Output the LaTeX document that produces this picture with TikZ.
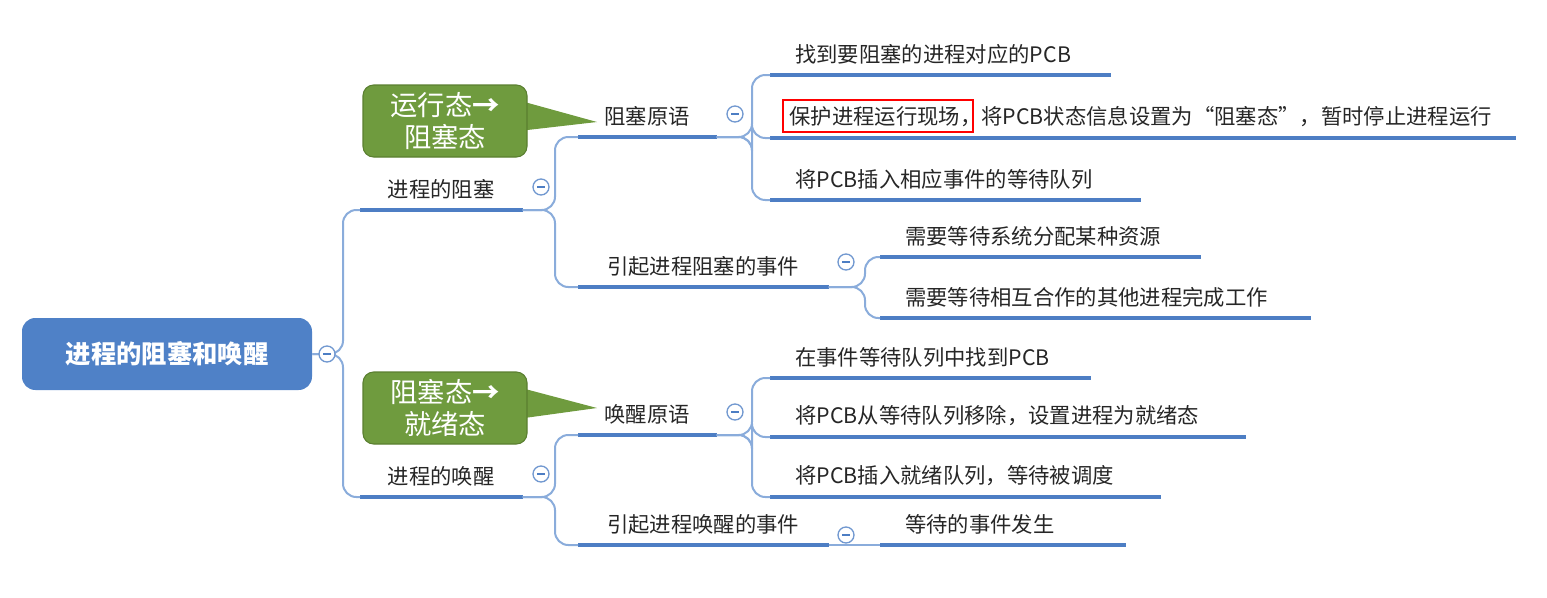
\documentclass[tikz,border=0pt]{standalone}
\usepackage{fontspec}
\setmainfont{Noto Sans CJK SC}
\usetikzlibrary{positioning}
\definecolor{ulc}{HTML}{4D7EC4}
\definecolor{cnc}{HTML}{8AACDB}
\definecolor{rootc}{HTML}{4F81C7}
\definecolor{grn}{HTML}{6F9B3E}
\definecolor{grnd}{HTML}{5A7F30}
\begin{document}
\begin{tikzpicture}[x=0.75pt,y=-0.75pt,
  lbl/.style={anchor=south west,inner sep=0pt,minimum height=31pt,font=\fontsize{16}{19}\selectfont,text=black!85},
  leaf/.style={lbl,align=left,inner xsep=18.75pt},
  ul/.style={ulc,line width=3pt},
  conn/.style={cnc,line width=1.5pt,rounded corners=10pt},
  col/.style={circle,draw=ulc!80,fill=white,line width=1pt,minimum size=12pt,inner sep=0pt,
     path picture={\draw[ulc,line width=1pt] ([xshift=-3pt]path picture bounding box.center)--([xshift=3pt]path picture bounding box.center);}},
  call/.style={rounded corners=8pt,fill=grn,draw=grnd,line width=0.8pt,text=white,align=center,
     font=\fontsize{20.5}{24}\selectfont,minimum width=123pt,minimum height=54pt,inner sep=0pt}]
\useasboundingbox (0,0) rectangle (1547,597);
% root
\node[rounded corners=10pt,fill=rootc,text=white,minimum width=217.5pt,minimum height=54pt,
  font=\fontsize{19}{23}\selectfont\bfseries] (root) at (167,354) {进程的阻塞和唤醒};
% level 1
\node[lbl,minimum width=121.5pt] (b1) at (360,210) {进程的阻塞};
\node[lbl,minimum width=121.5pt] (b2) at (360,497) {进程的唤醒};
% level 2
\node[lbl,minimum width=103.5pt] (c1) at (578,137) {阻塞原语};
\node[lbl,minimum width=187.5pt] (c2) at (578,287) {引起进程阻塞的事件};
\node[lbl,minimum width=103.5pt] (c3) at (578,435) {唤醒原语};
\node[lbl,minimum width=187.5pt] (c4) at (578,545) {引起进程唤醒的事件};
% leaves
\node[leaf,text width=217.5pt] (d1) at (770,75) {找到要阻塞的进程对应的PCB};
\node[leaf,text width=530pt,inner xsep=14.4pt] (d2) at (770,138) {保护进程运行现场，将PCB状态信息设置为“阻塞态”，暂时停止进程运行};
\node[leaf,text width=240pt] (d3) at (770,200) {将PCB插入相应事件的等待队列};
\node[leaf,text width=202.5pt] (e1) at (880,257) {需要等待系统分配某种资源};
\node[leaf,text width=285pt] (e2) at (880,318) {需要等待相互合作的其他进程完成工作};
\node[leaf,text width=202.5pt] (f1) at (770,378) {在事件等待队列中找到PCB};
\node[leaf,text width=318.75pt] (f2) at (770,437) {将PCB从等待队列移除，设置进程为就绪态};
\node[leaf,text width=255pt] (f3) at (770,497) {将PCB插入就绪队列，等待被调度};
\node[leaf,text width=146.25pt] (g1) at (880,545) {等待的事件发生};
% underlines
\foreach \n in {b1,b2,c1,c2,c3,c4,d1,d2,d3,e1,e2,f1,f2,f3,g1}
  \draw[ul] (\n.south west) -- (\n.south east);
% connectors
\draw[conn] (root.east) -- (343,354) |- (b1.south west);
\draw[conn] (root.east) -- (343,354) |- (b2.south west);
\draw[conn] (b1.south east) -- (555,210) |- (c1.south west);
\draw[conn] (b1.south east) -- (555,210) |- (c2.south west);
\draw[conn] (b2.south east) -- (555,497) |- (c3.south west);
\draw[conn] (b2.south east) -- (555,497) |- (c4.south west);
\foreach \n in {d1,d2,d3} \draw[conn] (c1.south east) -- (752,137) |- (\n.south west);
\foreach \n in {e1,e2} \draw[conn] (c2.south east) -- (865,287) |- (\n.south west);
\foreach \n in {f1,f2,f3} \draw[conn] (c3.south east) -- (752,435) |- (\n.south west);
\draw[conn] (c4.south east) -- (g1.south west);
% collapse circles
\node[col] (k0) at (327,354) {};
\node[col] (k1) at (541,187) {};
\node[col] (k2) at (541,474) {};
\node[col] (k3) at (735,114) {};
\node[col] (k4) at (846,262) {};
\node[col] (k5) at (735,412) {};
\node[col] (k6) at (846,535) {};
% callouts
\fill[grn] (510,98) -- (597,122) -- (510,132) -- cycle;
\node[call] (p1) at (445,121) {运行态{\bfseries→}\\阻塞态};
\fill[grn] (510,385) -- (597,408) -- (510,420) -- cycle;
\node[call] (p2) at (445,408) {阻塞态{\bfseries→}\\就绪态};
\fill[grn] (505,100) -- (520,100) -- (520,130) -- (505,130) -- cycle;
\fill[grn] (505,387) -- (520,387) -- (520,418) -- (505,418) -- cycle;
% highlight box
\node[draw=red,line width=0.8pt,minimum width=142.5pt,minimum height=24pt,inner sep=0pt] (hl) at (878,116) {};
\end{tikzpicture}
\end{document}
